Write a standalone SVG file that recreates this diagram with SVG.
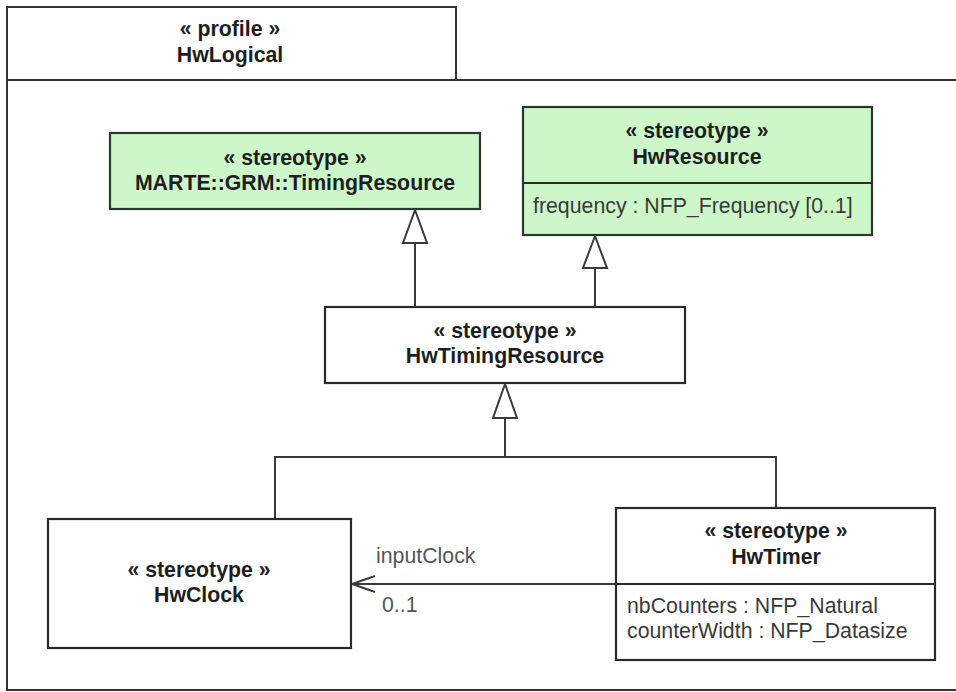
<svg xmlns="http://www.w3.org/2000/svg" width="956" height="692" viewBox="0 0 956 692">
<style>
.frame{fill:#fff;stroke:#333;stroke-width:2}
.box{fill:#fff;stroke:#2a2a2a;stroke-width:2.2}
.green{fill:#cdf6c9;stroke:#2a3a2a;stroke-width:2.2}
.sep{stroke:#2a2a2a;stroke-width:2}
.t{font-family:"Liberation Sans",Arial,sans-serif;font-size:21.3px;font-weight:bold;fill:#1e1e1e;text-anchor:middle}
.a{font-family:"Liberation Sans",Arial,sans-serif;font-size:21.3px;fill:#3a3a3a}
.lbl{font-family:"Liberation Sans",Arial,sans-serif;font-size:21.3px;fill:#555}
.edge{fill:none;stroke:#3a3a3a;stroke-width:2}
.tri{fill:#fff;stroke:#3a3a3a;stroke-width:2}
</style>
<rect width="956" height="692" fill="#fff"/>
<g id="profile">
<rect class="frame" x="7" y="80" width="960" height="610"/>
<rect class="frame" x="7" y="7" width="449" height="73"/>
<text class="t" x="230" y="36">« profile »</text>
<text class="t" x="230" y="62">HwLogical</text>
</g>
<g id="connectors">
<path class="edge" d="M415 243V307"/>
<polygon class="tri" points="415,210 403,243 427,243"/>
<path class="edge" d="M595 268V307"/>
<polygon class="tri" points="595,236 583,268 607,268"/>
<path class="edge" d="M505 418V457M275 519V457H776V508"/>
<polygon class="tri" points="505,384 493,418 517,418"/>
<path class="edge" d="M616 584H352"/>
<path class="edge" d="M375 576L352 584L375 592"/>
<text class="lbl" x="376" y="563">inputClock</text>
<text class="lbl" x="382" y="612">0..1</text>
</g>
<g id="TimingResource">
<rect class="green" x="110" y="133" width="370" height="76"/>
<text class="t" x="295" y="165">« stereotype »</text>
<text class="t" x="295" y="190">MARTE::GRM::TimingResource</text>
</g>
<g id="HwResource">
<rect class="green" x="523" y="107" width="349" height="128"/>
<line class="sep" x1="523" y1="183" x2="872" y2="183"/>
<text class="t" x="697" y="138">« stereotype »</text>
<text class="t" x="697" y="164">HwResource</text>
<text class="a" x="533" y="213">frequency : NFP_Frequency [0..1]</text>
</g>
<g id="HwTimingResource">
<rect class="box" x="325" y="307" width="360" height="76"/>
<text class="t" x="505" y="338">« stereotype »</text>
<text class="t" x="505" y="363">HwTimingResource</text>
</g>
<g id="HwClock">
<rect class="box" x="48" y="519" width="303" height="129"/>
<text class="t" x="199" y="577">« stereotype »</text>
<text class="t" x="199" y="602">HwClock</text>
</g>
<g id="HwTimer">
<rect class="box" x="616" y="508" width="319" height="152"/>
<line class="sep" x1="616" y1="584" x2="935" y2="584"/>
<text class="t" x="776" y="538">« stereotype »</text>
<text class="t" x="776" y="564">HwTimer</text>
<text class="a" x="627" y="613">nbCounters : NFP_Natural</text>
<text class="a" x="627" y="638">counterWidth : NFP_Datasize</text>
</g>
</svg>
